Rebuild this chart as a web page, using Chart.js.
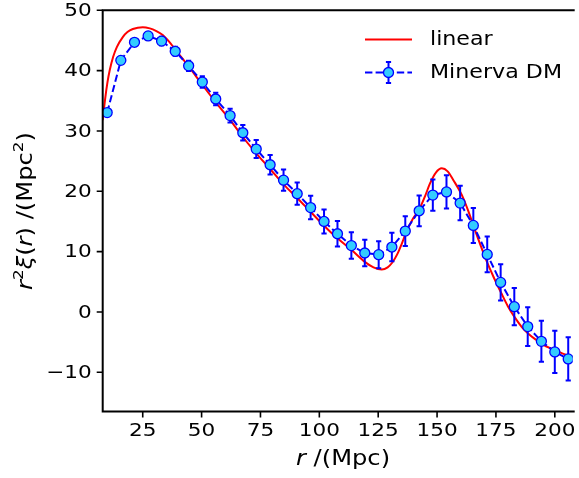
<!DOCTYPE html>
<html>
<head>
<meta charset="utf-8">
<script src="https://cdn.jsdelivr.net/npm/chart.js@4"></script>
<style>
  html, body { margin: 0; padding: 0; background: #fff; }
  canvas { display: block; }
</style>
</head>
<body>
<canvas id="chart" width="579" height="478"></canvas>
<script>
// Minerva DM measurements (r in Mpc, r^2 xi, 1-sigma error)
const dmR = [9.9, 15.7, 21.5, 27.3, 33.0, 38.8, 44.5, 50.3, 56.0, 62.1, 67.5, 73.2,
  79.1, 84.8, 90.6, 96.3, 102.0, 107.7, 113.6, 119.3, 125.2, 130.8, 136.5, 142.4,
  148.2, 154.0, 159.8, 165.4, 171.3, 177.0, 182.8, 188.5, 194.3, 200.0, 205.7];
const dmXi = [33.05, 41.7, 44.7, 45.75, 44.9, 43.2, 40.8, 38.1, 35.3, 32.55, 29.7, 27.0,
  24.4, 21.85, 19.6, 17.3, 15.0, 12.96, 11.0, 9.77, 9.49, 10.76, 13.4, 16.77,
  19.37, 19.9, 18.05, 14.34, 9.54, 4.9, 0.88, -2.43, -4.87, -6.62, -7.78];
const dmErr = [0.4, 0.5, 0.55, 0.6, 0.7, 0.75, 0.85, 0.95, 1.05, 1.15, 1.3, 1.5,
  1.6, 1.75, 1.85, 1.95, 2.0, 2.1, 2.2, 2.2, 2.25, 2.35, 2.45, 2.55,
  2.6, 2.75, 2.85, 2.9, 2.95, 3.0, 3.1, 3.2, 3.4, 3.5, 3.6];

// linear theory curve
const linR = [8, 9, 10, 11, 12.45, 14, 16.6, 18.5, 20.8, 25, 28, 30.6, 33.5, 36.2, 39,
  44.5, 50.4, 56.1, 62.1, 67.5, 73.2, 79.1, 84.8, 90.6, 96.3, 102, 107.7, 113.6, 119.3,
  123, 126.5, 129, 131, 133, 135, 137, 139.5, 142.4, 145, 147, 149.5, 152, 154.5, 157,
  160.5, 163, 166, 169, 171.5, 174, 177.3, 180, 183, 186, 189, 192, 195, 198, 201, 204, 207.6];
const linXi = [31.8, 35.2, 38.0, 40.1, 42.3, 43.9, 45.6, 46.4, 46.9, 47.2, 47.0, 46.6, 45.9, 44.8, 43.4,
  40.7, 37.6, 34.7, 31.85, 29.0, 26.3, 23.7, 21.15, 18.9, 16.6, 14.3, 12.2, 10.3, 8.3,
  7.4, 7.05, 7.4, 8.2, 9.5, 11.3, 13.3, 15.3, 17.0, 19.3, 21.3, 23.1, 23.8, 23.3, 21.8,
  19.4, 17.0, 13.7, 10.5, 8.0, 5.8, 3.1, 1.0, -0.9, -2.5, -3.7, -4.6, -5.4, -6.0, -6.5, -7.0, -7.5];

const xTicks = [25, 50, 75, 100, 125, 150, 175, 200];
const yTicks = [-10, 0, 10, 20, 30, 40, 50];
const xRange = [8, 207.6];
const yRange = [-16.5, 50];

const STRETCH = 1.18;
const FONT = '"DejaVu Sans", "Liberation Sans", sans-serif';

function richText(ctx, parts, x, y, size, align, rot) {
  ctx.save();
  ctx.translate(x, y);
  if (rot) ctx.rotate(rot);
  ctx.scale(STRETCH, 1);
  const fontFor = (p) => `${p.italic ? "italic " : ""}${p.sup ? size * 0.7 : size}px ${FONT}`;
  let w = 0;
  parts.forEach((p) => { ctx.font = fontFor(p); w += ctx.measureText(p.t).width; });
  let cx = align === "center" ? -w / 2 : align === "right" ? -w : 0;
  ctx.textBaseline = "middle";
  ctx.fillStyle = "#000";
  parts.forEach((p) => {
    ctx.font = fontFor(p);
    ctx.fillText(p.t, cx, p.sup ? -size * 0.38 : 0);
    cx += ctx.measureText(p.t).width;
  });
  ctx.restore();
}

function fmtTick(v) {
  return v < 0 ? "\u2212" + Math.abs(v) : String(v);
}

function errorBar(ctx, x, yTop, yBot) {
  ctx.beginPath();
  ctx.moveTo(x, yTop); ctx.lineTo(x, yBot);
  ctx.moveTo(x - 2.6, yTop); ctx.lineTo(x + 2.6, yTop);
  ctx.moveTo(x - 2.6, yBot); ctx.lineTo(x + 2.6, yBot);
  ctx.stroke();
}

const errorBars = {
  id: "errorBars",
  beforeDatasetDraw(chart, args) {
    if (args.index !== 1) return;
    const { ctx, scales: { x, y } } = chart;
    ctx.save();
    ctx.strokeStyle = "#0000ff";
    ctx.lineWidth = 2;
    dmR.forEach((r, i) => {
      const px = x.getPixelForValue(r);
      errorBar(ctx, px, y.getPixelForValue(dmXi[i] + dmErr[i]), y.getPixelForValue(dmXi[i] - dmErr[i]));
    });
    ctx.restore();
  },
};

const frame = {
  id: "frame",
  afterDraw(chart) {
    const { ctx, chartArea: a, scales: { x, y } } = chart;
    ctx.save();
    ctx.strokeStyle = "#000";
    ctx.lineWidth = 2;
    ctx.beginPath();
    ctx.moveTo(a.right + 2, a.top); ctx.lineTo(a.left, a.top);
    ctx.lineTo(a.left, a.bottom); ctx.lineTo(a.right + 2, a.bottom);
    ctx.stroke();

    ctx.lineWidth = 1.6;
    ctx.beginPath();
    xTicks.forEach((t) => {
      const px = x.getPixelForValue(t);
      ctx.moveTo(px, a.bottom); ctx.lineTo(px, a.bottom + 6);
    });
    yTicks.forEach((t) => {
      const py = y.getPixelForValue(t);
      ctx.moveTo(a.left, py); ctx.lineTo(a.left - 6, py);
    });
    ctx.stroke();

    xTicks.forEach((t) => richText(ctx, [{ t: fmtTick(t) }], x.getPixelForValue(t), a.bottom + 20, 18.3, "center"));
    yTicks.forEach((t) => richText(ctx, [{ t: fmtTick(t) }], a.left - 11, y.getPixelForValue(t) + 1, 18.3, "right"));

    richText(ctx, [{ t: "r", italic: true }, { t: " /(Mpc)" }], 343, 460, 20.5, "center");
    richText(ctx, [
      { t: "r", italic: true }, { t: "2", sup: true }, { t: "\u03be", italic: true },
      { t: "(" }, { t: "r", italic: true }, { t: ") /(Mpc" }, { t: "2", sup: true }, { t: ")" },
    ], 27, 211, 20.5, "center", -Math.PI / 2);

    // legend
    ctx.lineWidth = 2;
    ctx.strokeStyle = "#ff0000";
    ctx.beginPath(); ctx.moveTo(365, 39.5); ctx.lineTo(412, 39.5); ctx.stroke();
    richText(ctx, [{ t: "linear" }], 430, 40, 18.8, "left");

    ctx.strokeStyle = "#0000ff";
    ctx.setLineDash([7.4, 3.2]);
    ctx.beginPath(); ctx.moveTo(365, 72.5); ctx.lineTo(412, 72.5); ctx.stroke();
    ctx.setLineDash([]);
    errorBar(ctx, 388.5, 62, 83);
    ctx.beginPath();
    ctx.arc(388.5, 72.5, 5, 0, Math.PI * 2);
    ctx.fillStyle = "#33ccff"; ctx.fill();
    ctx.lineWidth = 1.3; ctx.stroke();
    richText(ctx, [{ t: "Minerva DM" }], 430, 73, 18.8, "left");
    ctx.restore();
  },
};

new Chart(document.getElementById("chart"), {
  type: "scatter",
  data: {
    datasets: [
      {
        label: "linear",
        data: linR.map((r, i) => ({ x: r, y: linXi[i] })),
        showLine: true,
        borderColor: "#ff0000",
        borderWidth: 2,
        pointRadius: 0,
        cubicInterpolationMode: "monotone",
        order: 2,
      },
      {
        label: "Minerva DM",
        data: dmR.map((r, i) => ({ x: r, y: dmXi[i] })),
        showLine: true,
        borderColor: "#0000ff",
        borderWidth: 2,
        borderDash: [7.4, 3.2],
        pointRadius: 5,
        pointBackgroundColor: "#33ccff",
        pointBorderColor: "#0000ff",
        pointBorderWidth: 1.3,
        order: 1,
      },
    ],
  },
  options: {
    responsive: false,
    animation: false,
    layout: { padding: { left: 102.7, right: 0, top: 10.3, bottom: 66.5 } },
    scales: {
      x: { type: "linear", min: xRange[0], max: xRange[1], display: false },
      y: { type: "linear", min: yRange[0], max: yRange[1], display: false },
    },
    plugins: { legend: { display: false }, tooltip: { enabled: false } },
  },
  plugins: [errorBars, frame],
});
</script>
</body>
</html>
